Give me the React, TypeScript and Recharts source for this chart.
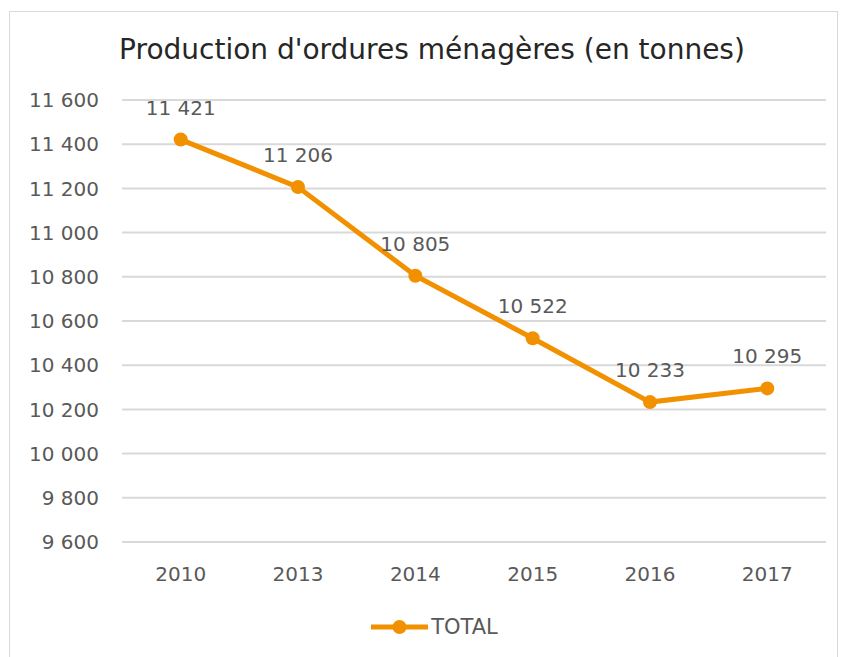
import { LineChart, Line, XAxis, YAxis, CartesianGrid, Legend, LabelList } from 'recharts';

const years = ['2010', '2013', '2014', '2015', '2016', '2017'];
const totals = [11421, 11206, 10805, 10522, 10233, 10295];
const yTicks = [9600, 9800, 10000, 10200, 10400, 10600, 10800, 11000, 11200, 11400, 11600];

const data = years.map((year, i) => ({ year, TOTAL: totals[i] }));

const ORANGE = '#F29100';
const TEXT = '#595959';
const FONT = '"DejaVu Sans", sans-serif';

const fmt = (v: number) => {
  const s = String(v);
  return s.length > 3 ? s.slice(0, s.length - 3) + ' ' + s.slice(-3) : s;
};

const LegendContent = () => (
  <div style={{ display: 'flex', justifyContent: 'center', alignItems: 'center', height: 40, paddingLeft: 43 }}>
    <svg width={57} height={20}>
      <line x1={0} y1={10} x2={57} y2={10} stroke={ORANGE} strokeWidth={5} />
      <circle cx={28.5} cy={10} r={7} fill={ORANGE} />
    </svg>
    <span style={{ fontFamily: FONT, fontSize: 21, color: TEXT, marginLeft: 3 }}>TOTAL</span>
  </div>
);

export default function App() {
  return (
    <div style={{ position: 'absolute', left: 0, top: 0, width: 846, height: 657, background: '#fff', overflow: 'hidden' }}>
      <div style={{
        position: 'absolute', left: 9, top: 11, width: 829, height: 700,
        border: '1px solid #D9D9D9', boxSizing: 'border-box',
      }} />
      <div style={{
        position: 'absolute', left: 0, top: 30, width: 864, textAlign: 'center',
        fontFamily: FONT, fontSize: 28, color: '#262626', lineHeight: '40px',
      }}>
        Production d'ordures ménagères (en tonnes)
      </div>
      <div style={{ position: 'absolute', left: 0, top: 0 }}>
        <LineChart width={846} height={657} data={data} margin={{ top: 100, right: 20, left: 0, bottom: 10 }}>
          <CartesianGrid vertical={false} stroke="#D9D9D9" strokeWidth={2} />
          <XAxis
            dataKey="year"
            axisLine={false}
            tickLine={false}
            tickSize={0}
            tickMargin={25}
            height={65}
            padding={{ left: 58.7, right: 58.7 }}
            tick={{ fill: TEXT, fontSize: 20, fontFamily: FONT }}
          />
          <YAxis
            domain={[9600, 11600]}
            ticks={yTicks}
            interval={0}
            axisLine={false}
            tickLine={false}
            tickSize={0}
            tickMargin={23}
            width={122}
            tickFormatter={fmt}
            tick={{ fill: TEXT, fontSize: 20, fontFamily: FONT }}
          />
          <Legend verticalAlign="bottom" height={40} content={<LegendContent />} />
          <Line
            dataKey="TOTAL"
            stroke={ORANGE}
            strokeWidth={5}
            dot={{ r: 7, fill: ORANGE, stroke: ORANGE, strokeWidth: 0 }}
            isAnimationActive={false}
          >
            <LabelList
              dataKey="TOTAL"
              position="top"
              offset={25}
              formatter={(v: any) => fmt(Number(v))}
              style={{ fill: TEXT, fontSize: 20, fontFamily: FONT }}
            />
          </Line>
        </LineChart>
      </div>
    </div>
  );
}
